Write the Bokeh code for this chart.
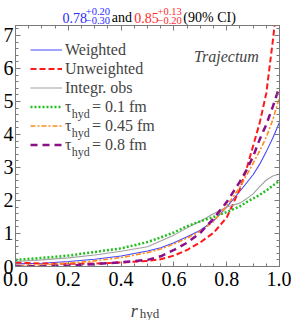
from bokeh.plotting import figure
from bokeh.layouts import column
from bokeh.models import (Range1d, FixedTicker, LinearAxis, Legend, LegendItem,
                          Label, PrintfTickFormatter)
from bokeh.embed import file_html
from bokeh.resources import INLINE

# ---- data ----
r_hyd = [0.0, 0.1, 0.2, 0.3, 0.4, 0.5, 0.55, 0.6, 0.65, 0.7, 0.75, 0.8,
         0.85, 0.875, 0.9, 0.925, 0.95, 0.975, 1.0]
weighted = [0.08, 0.10, 0.15, 0.22, 0.32, 0.47, 0.57, 0.72, 0.90, 1.10, 1.38, 1.80,
            2.28, 2.53, 2.78, 3.10, 3.48, 3.90, 4.37]
unweighted = [0.12, 0.09, 0.08, 0.09, 0.12, 0.17, 0.22, 0.33, 0.50, 0.73, 1.02, 1.48,
              2.35, 2.95, 3.65, 4.35, 5.25, 6.85, 8.60]
integr_obs = [0.15, 0.20, 0.26, 0.35, 0.46, 0.60, 0.77, 0.95, 1.17, 1.37, 1.60, 1.80,
              1.92, 2.05, 2.20, 2.42, 2.62, 2.74, 2.80]
tau_01 = [0.20, 0.26, 0.33, 0.44, 0.55, 0.74, 0.88, 1.03, 1.22, 1.37, 1.50, 1.65,
          1.82, 1.95, 2.06, 2.17, 2.30, 2.45, 2.60]
tau_045 = [0.03, 0.05, 0.10, 0.17, 0.27, 0.42, 0.53, 0.68, 0.86, 1.07, 1.36, 1.83,
           2.40, 2.76, 3.12, 3.50, 3.92, 4.45, 5.13]
tau_08 = [0.00, 0.01, 0.03, 0.07, 0.13, 0.20, 0.31, 0.50, 0.72, 1.02, 1.45, 1.95,
          2.57, 2.92, 3.33, 3.85, 4.30, 4.85, 5.45]

x_ticks = [0.0, 0.2, 0.4, 0.6, 0.8, 1.0]
x_minor = [i * 0.05 for i in range(21)]
y_ticks = [0, 1, 2, 3, 4, 5, 6, 7]
y_minor = [i * 0.2 for i in range(37)]

legend_labels = ["Weighted", "Unweighted", "Integr. obs",
                 "\u03c4\u2003\u2009\u200a= 0.1 fm", "\u03c4\u2003\u2009\u200a= 0.45 fm",
                 "\u03c4\u2003\u2009\u200a= 0.8 fm"]

# ---- layout (page has no margin: canvas px == page px) ----
W = 291
HT, HM, HB = 25, 267, 28          # title strip, main figure, axis-label strip
BL, BR, BT, BB = 12, 12, 0, 26
FL, FT = BL, BT
FW, FH = W - BL - BR, HM - BT - BB
X0, X1, Y0, Y1 = 0.0, 1.0, 0.0, 7.3
SERIF = "'Liberation Serif'"
AX = "#7a7a7a"
LEG_PAD, LEG_ROW, LEG_GW, LEG_STAND = 15, 19, 32, 3


def xd(px):
    return X0 + (px - FL) / FW * (X1 - X0)


def yd(py):
    return Y1 - (py - FT) / FH * (Y1 - Y0)


def strip(h):
    f = figure(width=W, height=h, output_backend="svg", toolbar_location=None,
               x_range=Range1d(0, W), y_range=Range1d(h, 0),
               x_axis_type=None, y_axis_type=None, min_border=0)
    f.grid.visible = False
    f.outline_line_color = None
    return f


# ---- main plot ----
p = figure(width=W, height=HM, output_backend="svg", toolbar_location=None,
           x_range=Range1d(X0, X1), y_range=Range1d(Y0, Y1),
           min_border_left=BL, min_border_right=BR, min_border_top=BT,
           min_border_bottom=BB)
p.grid.visible = False
p.outline_line_color = AX

p.add_layout(LinearAxis(), "above")
p.add_layout(LinearAxis(), "right")

for ax in p.xaxis:
    ax.ticker = FixedTicker(ticks=x_ticks, minor_ticks=x_minor)
    ax.formatter = PrintfTickFormatter(format="%.1f")
for ax in p.yaxis:
    ax.ticker = FixedTicker(ticks=y_ticks, minor_ticks=y_minor)
for ax in list(p.xaxis) + list(p.yaxis):
    ax.major_tick_in = 5
    ax.major_tick_out = 0
    ax.minor_tick_in = 3
    ax.minor_tick_out = 0
    ax.axis_line_color = AX
    ax.major_tick_line_color = AX
    ax.minor_tick_line_color = AX
    ax.major_label_text_font = SERIF
    ax.major_label_text_font_size = "20px"
    ax.major_label_text_color = "black"
p.xaxis[0].major_label_standoff = 3
p.yaxis[0].major_label_standoff = 2
p.above[0].major_label_overrides = {t: "" for t in x_ticks}
p.right[0].major_label_overrides = {t: "" for t in y_ticks}
for ax in [p.above[0], p.right[0]]:
    ax.major_label_standoff = 0
    ax.major_label_text_font_size = "1px"

# ---- curves ----
r_w = p.line(r_hyd, weighted, line_color="#4646ff", line_width=1.1)
r_u = p.line(r_hyd, unweighted, line_color="#ff1a1a", line_width=2, line_dash="6 3")
r_i = p.line(r_hyd, integr_obs, line_color="#a0a0a0", line_width=1.1)
r_1 = p.line(r_hyd, tau_01, line_color="#1fbf1f", line_width=2.5, line_dash="2 2")
r_2 = p.line(r_hyd, tau_045, line_color="#ff8c1a", line_width=1.6, line_dash="5 2 2 2")
r_3 = p.line(r_hyd, tau_08, line_color="#8a108a", line_width=2.5, line_dash="7 5")

legend = Legend(items=[LegendItem(label=lab, renderers=[rr]) for lab, rr in
                       zip(legend_labels, [r_w, r_u, r_i, r_1, r_2, r_3])],
                location="top_left", margin=0, padding=LEG_PAD, spacing=0,
                glyph_width=LEG_GW, glyph_height=LEG_ROW, label_height=LEG_ROW,
                label_standoff=LEG_STAND,
                label_text_font=SERIF, label_text_font_size="16px",
                background_fill_alpha=0, border_line_alpha=0)
p.add_layout(legend)

# subscripts "hyd" in the legend
for i in (3, 4, 5):
    cy = FT + LEG_PAD + i * LEG_ROW + LEG_ROW / 2
    p.add_layout(Label(x=xd(FL + LEG_PAD + LEG_GW + LEG_STAND + 6.8), y=yd(cy + 6.7),
                       text="hyd", text_font=SERIF, text_font_size="12px",
                       text_baseline="alphabetic", text_align="left"))

# Trajectum
p.add_layout(Label(x=0.922, y=6.37, text="Trajectum", text_font=SERIF,
                   text_font_style="italic", text_font_size="16px",
                   text_align="right", text_baseline="alphabetic"))

# ---- title strip ----
t = strip(HT)
BLUE, RED = "#2a2aff", "#ff2a2a"
title_parts = [
    (51.7, 17, "0.78", BLUE, "14px"),
    (77.5, 11, "+0.20", BLUE, "10.5px"),
    (77.5, 19.8, "\u22120.30", BLUE, "10.5px"),
    (106, 17, "and", "black", "14px"),
    (131, 17, "0.85", RED, "14px"),
    (156.5, 11, "+0.13", RED, "10.5px"),
    (156.5, 19.8, "\u22120.20", RED, "10.5px"),
    (185, 17, "(90% CI)", "black", "14px"),
]
for px, py, txt, col, fs in title_parts:
    t.add_layout(Label(x=px, y=py, text=txt, text_color=col,
                       text_font=SERIF, text_font_size=fs,
                       text_baseline="alphabetic", text_align="left"))

# ---- axis-label strip ----
b = strip(HB)
b.add_layout(Label(x=127, y=18, text="r", text_font=SERIF,
                   text_font_style="italic", text_font_size="18px",
                   text_baseline="alphabetic"))
b.add_layout(Label(x=137, y=21, text="hyd", text_font=SERIF,
                   text_font_size="13px", text_baseline="alphabetic"))

layout = column(t, p, b, spacing=0)
open("out.html", "w").write(file_html(layout, INLINE))
